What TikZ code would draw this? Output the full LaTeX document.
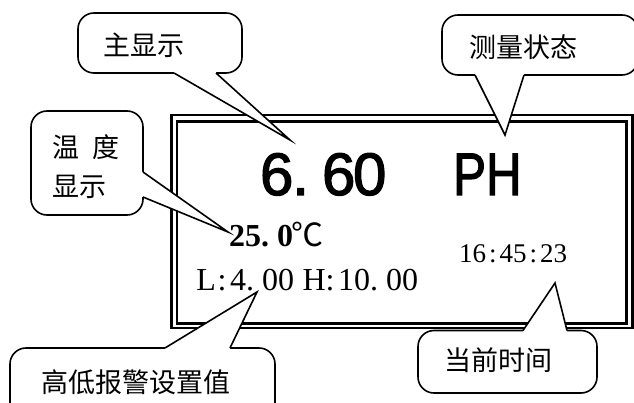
\documentclass[tikz,border=0pt]{standalone}
\usepackage{fontspec}
\usepackage{graphicx}
\usetikzlibrary{calc}
\setmainfont{Liberation Serif}
\newfontfamily\cjk{Noto Sans CJK SC}
\newfontfamily\hei[FakeBold=2]{Liberation Sans}
\newlength\monow
\newcommand\cc[1]{\makebox[\monow][c]{#1}}
\newcommand\pointer[4]{%
  \fill[white] ($#1+#4$) -- #1 -- #2 -- #3 -- ($#3+#4$) -- cycle;
  \draw[co] #1 -- #2 -- #3;}
\begin{document}
\begin{tikzpicture}[x=1pt,y=-1pt,
  co/.style={line width=1.6pt, line join=miter, miter limit=20},
  cbox/.style={draw, line width=1.6pt, fill=white, rounded corners=16pt, inner sep=0, rectangle},
  lbl/.style={inner sep=0, font=\cjk\fontsize{27}{27}\selectfont},
  txt/.style={inner sep=0, anchor=base west},
  framebox/.style={draw, line width=2.2pt, inner sep=0, rectangle}]
\useasboundingbox (0,0) rectangle (634,403);
\fill[white] (0,0) rectangle (634,403);
% display frame
\node[framebox, minimum width=461pt, minimum height=213pt] (outer) at (402,221.5) {};
\node[framebox, minimum width=449.5pt, minimum height=202pt] (inner) at (401.75,222.5) {};
% display texts
\node[txt] (big1) at (261,195) {\hei\fontsize{60}{60}\selectfont\setlength\monow{31pt}\cc{6}\makebox[31pt][l]{.}\cc{6}\cc{0}};
\node[txt] (big2) at (453,195) {\hei\fontsize{60}{60}\selectfont\scalebox{0.82}[1]{PH}};
\node[txt] (temp) at (229,247) {\bfseries\fontsize{32}{32}\selectfont\setlength\monow{16pt}\cc{2}\cc{5}\makebox[16pt][l]{.}\cc{0}{\cjk\mdseries\fontsize{32}{32}\selectfont\hspace{-2pt}℃}};
\node[txt] (alarm) at (198,290) {\fontsize{32}{32}\selectfont\setlength\monow{16pt}\cc{L}\cc{:}\cc{4}\makebox[16pt][l]{.}\cc{0}\cc{0}\hspace{12pt}\cc{H}\cc{:}\cc{1}\cc{0}\makebox[16pt][l]{.}\cc{0}\cc{0}};
\node[txt] (clock) at (459,262) {\fontsize{27}{27}\selectfont\setlength\monow{13.5pt}\cc{1}\cc{6}\cc{:}\cc{4}\cc{5}\cc{:}\cc{2}\cc{3}};
% callout A
\node[cbox, minimum width=164pt, minimum height=60pt] (boxA) at (160,43) {};
\coordinate (a1) at (174,73); \coordinate (a2) at (216,73); \coordinate (tipA) at (290,140);
\pointer{(a1)}{(tipA)}{(a2)}{(0,-2.5)}
\node[lbl] (tA) at (144,45) {主显示};
% callout B
\node[cbox, minimum width=196pt, minimum height=60pt] (boxB) at (540,45) {};
\coordinate (b1) at (475,75); \coordinate (b2) at (524,75); \coordinate (tipB) at (505,135);
\pointer{(b1)}{(tipB)}{(b2)}{(0,-2.5)}
\node[lbl] (tB) at (523,47) {测量状态};
% callout C
\node[cbox, minimum width=112pt, minimum height=104pt] (boxC) at (87,163) {};
\coordinate (c1) at (143,172); \coordinate (c2) at (143,197); \coordinate (tipC) at (228,232);
\pointer{(c1)}{(tipC)}{(c2)}{(-2.5,0)}
\node[lbl, anchor=west] (tC1) at (52,147) {温\hspace{13pt}度};
\node[lbl, anchor=west] (tC2) at (52,187) {显示};
% callout D
\node[cbox, minimum width=265pt, minimum height=77pt] (boxD) at (142.5,386.5) {};
\coordinate (d1) at (165,348); \coordinate (d2) at (230,348); \coordinate (tipD) at (257,292);
\pointer{(d1)}{(tipD)}{(d2)}{(0,2.5)}
\node[lbl] (tD) at (136,382) {高低报警设置值};
% callout E
\node[cbox, minimum width=179pt, minimum height=62.5pt] (boxE) at (507.5,361.75) {};
\coordinate (e1) at (523,330.5); \coordinate (e2) at (567,330.5); \coordinate (tipE) at (555,283);
\pointer{(e1)}{(tipE)}{(e2)}{(0,2.5)}
\node[lbl] (tE) at (498,360) {当前时间};
\end{tikzpicture}
\end{document}
